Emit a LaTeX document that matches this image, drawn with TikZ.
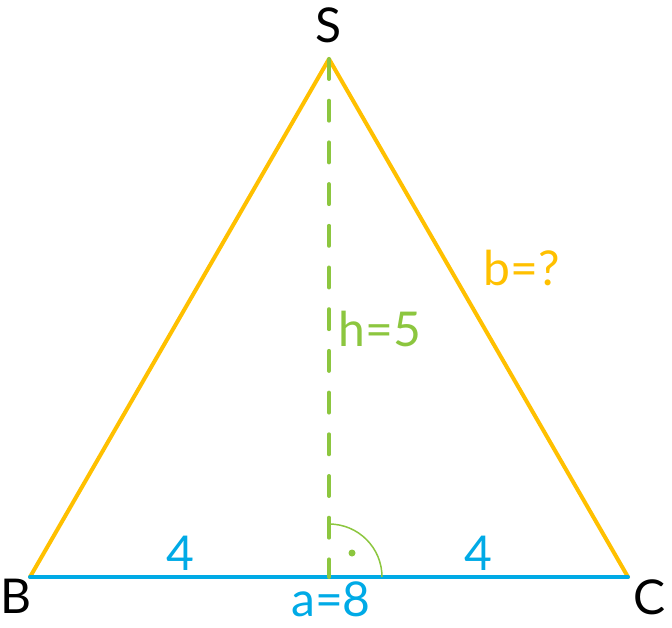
\documentclass[tikz,border=0pt]{standalone}
\usepackage{fontspec}
\setmainfont{Lato}
\definecolor{triyellow}{RGB}{255,192,0}
\definecolor{triblue}{RGB}{0,170,230}
\definecolor{trigreen}{RGB}{140,198,63}
\tikzset{
  side/.style={triyellow, line width=4pt, line join=round, line cap=round},
  basestyle/.style={triblue, line width=4pt, line cap=round},
  heightline/.style={trigreen, line width=4pt, line cap=round, dash pattern=on 20pt off 21.7pt},
  lbl/.style={font=\fontsize{48}{52}\selectfont, inner sep=0pt},
}
\begin{document}
\begin{tikzpicture}[x=1pt,y=-1pt]
\useasboundingbox (0,0) rectangle (672,628);
\coordinate (S) at (329,59);
\coordinate (B) at (30,577);
\coordinate (C) at (628,577);
\coordinate (H) at (329,577);
\draw[side] (B) -- (S) -- (C);
\draw[basestyle] (B) -- (C);
\draw[heightline] (S) -- (H);
\draw[trigreen, line width=1.5pt] ([xshift=53pt]H) arc[start angle=0, end angle=90, radius=53pt];
\fill[trigreen] (352,553) circle[radius=3.5pt];
\node[lbl, text=black] (lS) at (329,25) {S};
\node[lbl, text=black] (lB) at (16,596) {B};
\node[lbl, text=black] (lC) at (650,597) {C};
\node[lbl, text=triblue] (l4a) at (180,553) {4};
\node[lbl, text=triblue] (l4b) at (478,553) {4};
\node[lbl, text=triblue] (la) at (331,599) {a=8};
\node[lbl, text=trigreen] (lh) at (380,329) {h=5};
\node[lbl, text=triyellow] (lb) at (522,268) {b=?};
\end{tikzpicture}
\end{document}
